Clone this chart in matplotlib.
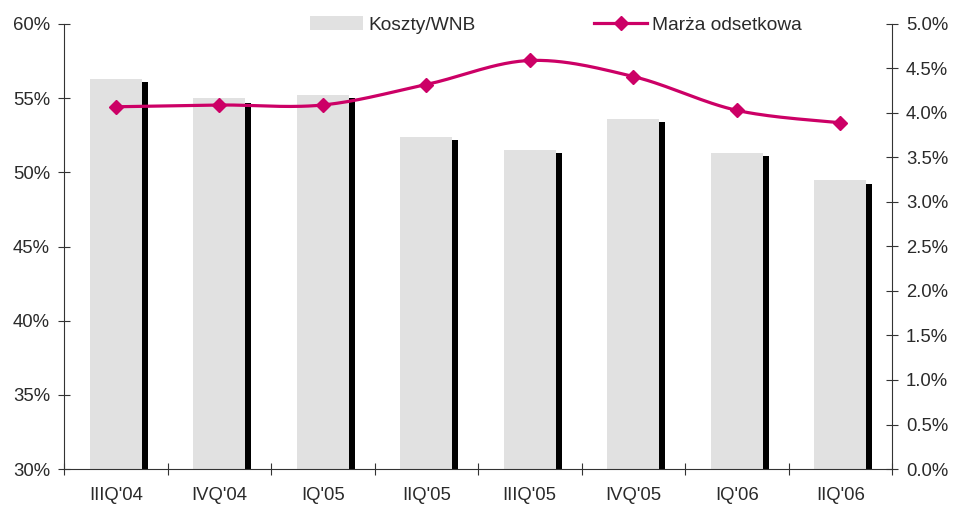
import numpy as np
import matplotlib
matplotlib.use("Agg")
import matplotlib.pyplot as plt
from matplotlib.patches import Patch
from matplotlib.lines import Line2D

quarters = ["IIIQ'04", "IVQ'04", "IQ'05", "IIQ'05", "IIIQ'05", "IVQ'05", "IQ'06", "IIQ'06"]
koszty_wnb = [56.3, 55.0, 55.2, 52.4, 51.5, 53.6, 51.3, 49.5]
koszty_shadow = [56.1, 54.7, 55.0, 52.2, 51.3, 53.4, 51.1, 49.2]
marza = [4.07, 4.09, 4.09, 4.32, 4.59, 4.41, 4.03, 3.89]

left_ticks = [30, 35, 40, 45, 50, 55, 60]
right_ticks = [0.0, 0.5, 1.0, 1.5, 2.0, 2.5, 3.0, 3.5, 4.0, 4.5, 5.0]

GREY = "#E1E1E1"
MAGENTA = "#CC0066"
TXT = "#2a2a2a"
TICK_FS = 13.3
LEG_FS = 13.8

plt.rcParams['font.family'] = ['Liberation Sans', 'DejaVu Sans']


def smooth(xs, ys, n=30):
    # catmull-rom through the points, like the smoothed line in the spreadsheet
    pts = np.column_stack([xs, ys]).astype(float)
    pts_ext = np.vstack([pts[0], pts, pts[-1]])
    out = []
    for i in range(len(pts) - 1):
        p0, p1, p2, p3 = pts_ext[i], pts_ext[i + 1], pts_ext[i + 2], pts_ext[i + 3]
        c1 = p1 + (p2 - p0) / 6.0
        c2 = p2 - (p3 - p1) / 6.0
        t = np.linspace(0, 1, n)[:, None]
        seg = ((1 - t) ** 3) * p1 + 3 * ((1 - t) ** 2) * t * c1 + 3 * (1 - t) * t ** 2 * c2 + t ** 3 * p2
        out.append(seg if i == 0 else seg[1:])
    out = np.vstack(out)
    return out[:, 0], out[:, 1]


fig = plt.figure(figsize=(9.54, 5.07), dpi=100)
ax = fig.add_axes([64 / 954, 38 / 507, 828 / 954, 445 / 507])
x = np.arange(len(quarters))

ax.bar(x, koszty_wnb, width=0.5, color=GREY, zorder=2)
ax.bar(x + 0.25, koszty_shadow, width=0.058, align='edge', color='black', zorder=2)
ax.set_ylim(30, 60)
ax.set_xlim(-0.5, len(quarters) - 0.5)
ax.set_yticks(left_ticks)
ax.set_yticklabels([f"{v}%" for v in left_ticks], fontsize=TICK_FS, color=TXT)
ax.set_xticks(np.arange(-0.5, len(quarters), 1.0))
ax.set_xticklabels([])
ax.set_xticks(x, minor=True)
ax.set_xticklabels(quarters, minor=True, fontsize=TICK_FS, color=TXT)
ax.tick_params(axis='x', which='minor', length=0, pad=13)
ax.tick_params(axis='x', which='major', direction='inout', length=9, width=0.8, color='#333333')
ax.tick_params(axis='y', direction='inout', length=8, width=0.8, color='#333333', pad=6)
ax.spines['top'].set_visible(False)
ax.spines['right'].set_visible(False)
for s in ['left', 'bottom']:
    ax.spines[s].set_linewidth(0.8)
    ax.spines[s].set_color('#333333')

ax2 = ax.twinx()
sx, sy = smooth(x, marza)
ax2.plot(sx, sy, color=MAGENTA, lw=2.3, zorder=3)
ax2.plot(x, marza, linestyle='none', marker='D', markersize=7.5, color=MAGENTA, zorder=4)
ax2.set_ylim(0, 5)
ax2.set_yticks(right_ticks)
ax2.set_yticklabels([f"{v:.1f}%" for v in right_ticks], fontsize=TICK_FS, color=TXT)
ax2.tick_params(axis='y', direction='inout', length=8, width=0.8, color='#333333', pad=6)
for s in ['top', 'left', 'bottom']:
    ax2.spines[s].set_visible(False)
ax2.spines['right'].set_linewidth(0.8)
ax2.spines['right'].set_color('#333333')

handles = [Patch(facecolor=GREY, edgecolor='none', label='Koszty/WNB'),
           Line2D([0], [0], color=MAGENTA, lw=2.3, marker='D', markersize=7.5, label='Marża odsetkowa')]
leg = fig.legend(handles=handles, loc='center', bbox_to_anchor=(556 / 954, 1 - 25 / 507), ncol=2,
                 frameon=False, fontsize=LEG_FS, handlelength=2.76, handleheight=0.7,
                 handletextpad=0.26, columnspacing=6.2, borderaxespad=0, borderpad=0)
for t in leg.get_texts():
    t.set_color(TXT)

fig.savefig("out.png", dpi=100)
